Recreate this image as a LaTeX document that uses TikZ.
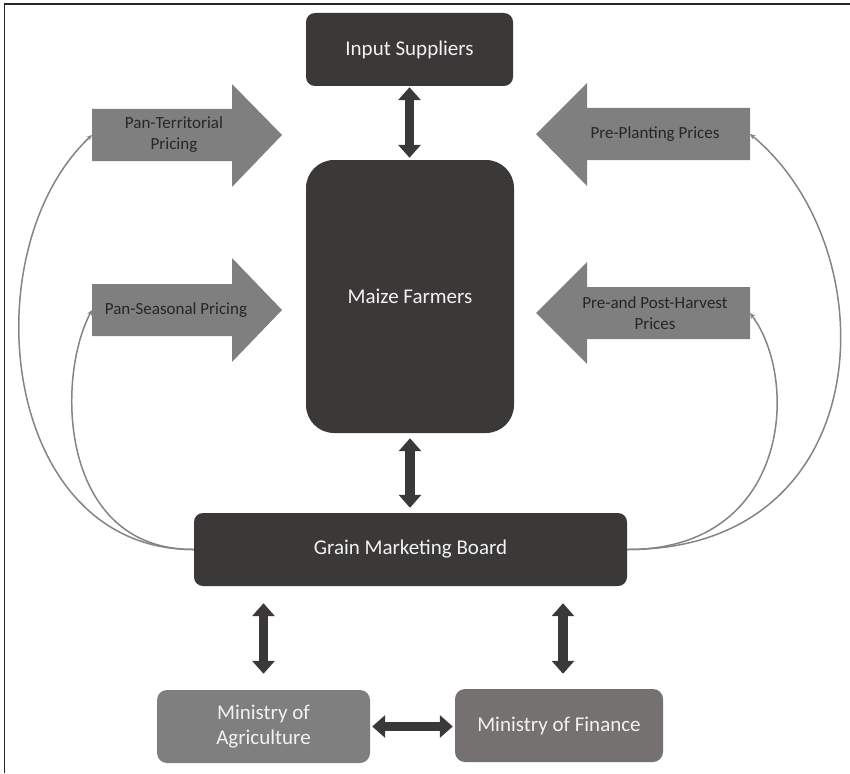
\documentclass[tikz,border=0pt]{standalone}
\usepackage{fontspec}
\setmainfont{Carlito}
\usepackage{tikz}
\usetikzlibrary{arrows.meta}

\definecolor{boxdark}{HTML}{3B3838}
\definecolor{agrigray}{HTML}{7F7F7F}
\definecolor{fingray}{HTML}{767171}
\definecolor{blockgray}{HTML}{7F7F7F}
\definecolor{linkgray}{HTML}{848484}

\begin{document}
\begin{tikzpicture}[x=1pt,y=-1pt,
    darkbox/.style={fill=boxdark,text=white!95!black,rounded corners=9pt,align=center,
      inner sep=0pt,font=\fontsize{21}{25}\selectfont},
    ministry/.style={darkbox,rounded corners=10pt},
    blockarrow/.style={fill=blockgray},
    arrowlabel/.style={text=black!85,align=center,inner sep=0pt,font=\fontsize{17}{21}\selectfont},
    dblarrow/.style={draw=boxdark,line width=9.5pt,
      {Triangle[length=13pt,width=22pt]}-{Triangle[length=13pt,width=22pt]}},
    feedback/.style={draw=linkgray,line width=1.5pt,-{Stealth[length=5.5pt,width=5pt]}}]
    \useasboundingbox (0,0) rectangle (850,773);
    % frame (top and left only)
    \draw[black!85,line width=1.6pt] (4.5,773) -- (4.5,4) -- (850,4);

    % boxes
    \node[darkbox,minimum width=207,minimum height=73] (supp) at (409.5,49.5) {Input Suppliers};
    \node[darkbox,rounded corners=28pt,minimum width=208,minimum height=273] (maize) at (410,296.5) {Maize Farmers};
    \node[darkbox,minimum width=433,minimum height=73] (gmb) at (410.5,549.5) {Grain Marketing Board};
    \node[ministry,fill=agrigray,minimum width=213,minimum height=73] (agri) at (263.5,726.5) {Ministry of\\Agriculture};
    \node[ministry,fill=fingray,minimum width=208,minimum height=73] (fin) at (559,725.5) {Ministry of Finance};

    % block arrows pointing at the farmers
    \fill[blockarrow] (92,109) -- (232,109) -- (232,84) -- (282,135) -- (232,187) -- (232,161) -- (92,161) -- cycle;
    \node[arrowlabel] (pterr) at (174,135) {Pan-Territorial\\Pricing};
    \coordinate (pterr-tail) at (92,135);
    \fill[blockarrow] (92,284) -- (232,284) -- (232,258) -- (282,310) -- (232,362) -- (232,336) -- (92,336) -- cycle;
    \node[arrowlabel] (pseas) at (176,310) {Pan-Seasonal Pricing};
    \coordinate (pseas-tail) at (92,310);
    \fill[blockarrow] (750,108) -- (587,108) -- (587,83) -- (536,134) -- (587,186) -- (587,160) -- (750,160) -- cycle;
    \node[arrowlabel] (preplant) at (655,134) {Pre-Planting Prices};
    \coordinate (preplant-tail) at (750,134);
    \fill[blockarrow] (750,287) -- (587,287) -- (587,262) -- (536,313) -- (587,364) -- (587,339) -- (750,339) -- cycle;
    \node[arrowlabel] (harvest) at (655,313) {Pre-and Post-Harvest\\Prices};
    \coordinate (harvest-tail) at (750,313);

    % two-way flows
    \draw[dblarrow,shorten <=1pt,shorten >=2pt] (supp.south) -- (supp.south |- maize.north);
    \draw[dblarrow,shorten <=5pt,shorten >=5pt] (maize.south) -- (maize.south |- gmb.north);
    \draw[dblarrow,shorten <=17pt,shorten >=16pt] (agri.north |- gmb.south) -- (agri.north);
    \draw[dblarrow,shorten <=17pt,shorten >=15pt] ([xshift=4pt]fin.north |- gmb.south) -- ([xshift=4pt]fin.north);
    \draw[dblarrow,shorten <=2pt,shorten >=2pt] (agri.east) -- (agri.east -| fin.west);

    % pricing policies set by the board
    \draw[feedback] (gmb.west) .. controls (0,550) and (-30,250) .. (pterr-tail);
    \draw[feedback] (gmb.west) .. controls (60,550) and (55,380) .. (pseas-tail);
    \draw[feedback] (gmb.east) .. controls (880,550) and (890,250) .. (preplant-tail);
    \draw[feedback] (gmb.east) .. controls (790,550) and (800,380) .. (harvest-tail);
\end{tikzpicture}
\end{document}
